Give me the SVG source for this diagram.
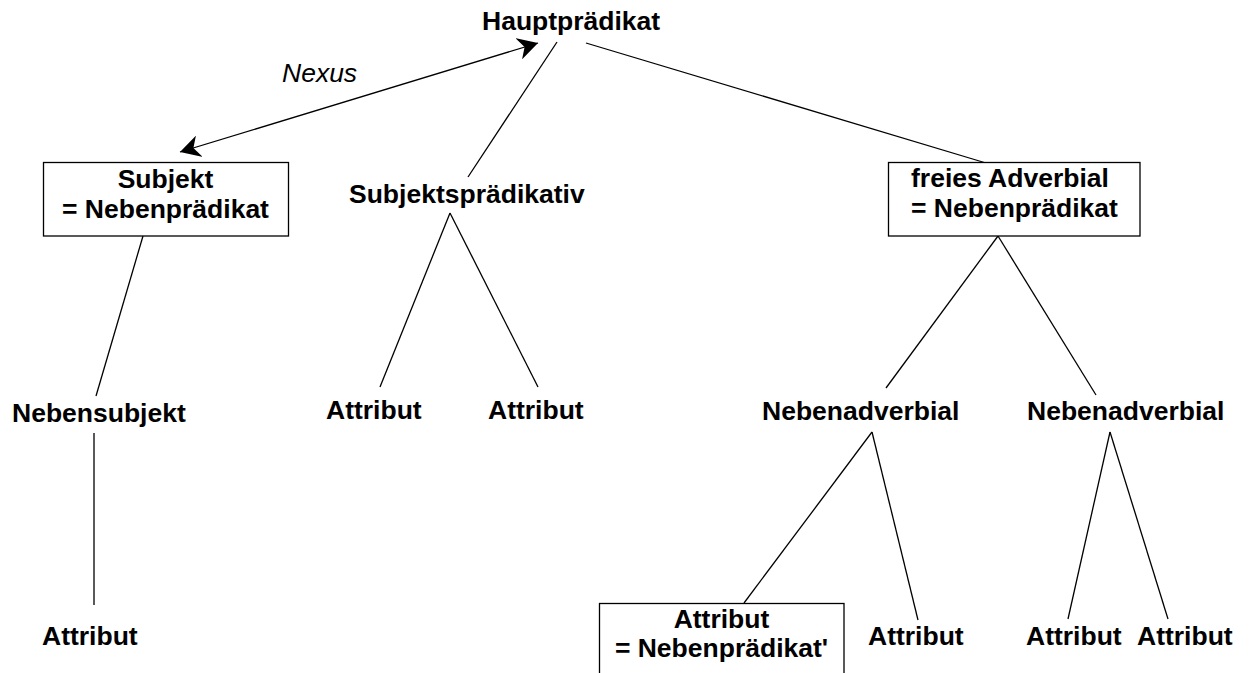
<svg xmlns="http://www.w3.org/2000/svg" width="1250" height="673" viewBox="0 0 1250 673">
<style>
text{font-family:"Liberation Sans",Arial,sans-serif;font-size:26.5px;font-weight:bold;fill:#000}
.it{font-weight:normal;font-style:italic}
.m{text-anchor:middle}
.box{fill:#fff;stroke:#000;stroke-width:1.3}
.ln{stroke:#000;stroke-width:1.3;fill:none}
</style>
<defs>
<marker id="stealth" markerUnits="userSpaceOnUse" viewBox="0 0 21 22" markerWidth="21" markerHeight="22" refX="20" refY="11" orient="auto-start-reverse">
<path d="M0,0 L20,11 L0,22 L6,11 Z" fill="#000"/>
</marker>
</defs>
<rect width="1250" height="673" fill="#fff"/>
<g id="connectors">
<line class="ln" x1="180" y1="152" x2="538" y2="43" marker-start="url(#stealth)" marker-end="url(#stealth)"/>
<line class="ln" x1="557" y1="42" x2="468" y2="177"/>
<line class="ln" x1="586" y1="43" x2="986" y2="163"/>
<line class="ln" x1="143" y1="236" x2="96" y2="396"/>
<line class="ln" x1="94" y1="433" x2="94" y2="605"/>
<line class="ln" x1="450" y1="213" x2="380" y2="387"/>
<line class="ln" x1="450" y1="213" x2="538" y2="387"/>
<line class="ln" x1="998" y1="236" x2="886" y2="388"/>
<line class="ln" x1="998" y1="236" x2="1096" y2="395"/>
<line class="ln" x1="872" y1="432" x2="744" y2="603"/>
<line class="ln" x1="872" y1="432" x2="918" y2="620"/>
<line class="ln" x1="1110" y1="432" x2="1068" y2="619"/>
<line class="ln" x1="1110" y1="432" x2="1168" y2="619"/>
<text class="it" x="282" y="82">Nexus</text>
</g>
<g id="hauptpraedikat"><text x="482" y="30">Hauptprädikat</text></g>
<g id="subjekt">
<rect class="box" x="43.5" y="162.5" width="245" height="73.5"/>
<text class="m" x="165.5" y="188">Subjekt</text>
<text class="m" x="165.5" y="218">= Nebenprädikat</text>
</g>
<g id="subjektspraedikativ"><text x="349" y="203">Subjektsprädikativ</text></g>
<g id="freies-adverbial">
<rect class="box" x="888.5" y="162.5" width="251.5" height="73.5"/>
<text x="911" y="187">freies Adverbial</text>
<text x="911" y="217">= Nebenprädikat</text>
</g>
<g id="nebensubjekt"><text x="12" y="422">Nebensubjekt</text></g>
<g id="attribut-1"><text x="326" y="419">Attribut</text></g>
<g id="attribut-2"><text x="488" y="419">Attribut</text></g>
<g id="nebenadverbial-1"><text x="762" y="420">Nebenadverbial</text></g>
<g id="nebenadverbial-2"><text x="1027" y="420">Nebenadverbial</text></g>
<g id="attribut-3"><text x="42" y="645">Attribut</text></g>
<g id="attribut-nebenpraedikat">
<rect class="box" x="599.5" y="603.5" width="244.5" height="90"/>
<text class="m" x="721.5" y="628">Attribut</text>
<text class="m" x="721.5" y="657">= Nebenprädikat'</text>
</g>
<g id="attribut-4"><text x="868" y="645">Attribut</text></g>
<g id="attribut-5"><text x="1026" y="645">Attribut</text></g>
<g id="attribut-6"><text x="1137" y="645">Attribut</text></g>
</svg>
